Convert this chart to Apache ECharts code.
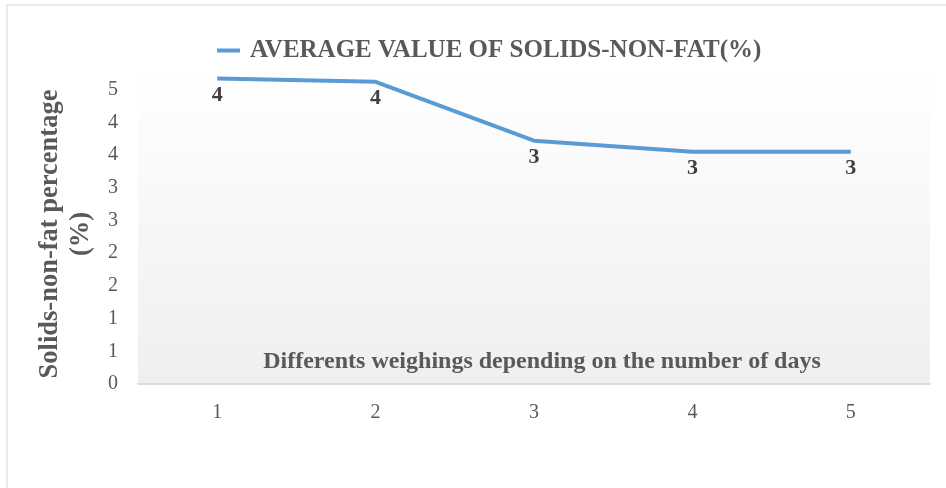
<!DOCTYPE html>
<html>
<head>
<meta charset="utf-8">
<script src="https://cdn.jsdelivr.net/npm/echarts@6/dist/echarts.min.js"></script>
<style>
  html,body{margin:0;padding:0;background:#fff;}
  #chart{width:946px;height:488px;}
</style>
</head>
<body>
<div id="chart"></div>
<script>
// values
var days = ['1', '2', '3', '4', '5'];
var snfValues = [4.67, 4.62, 3.72, 3.55, 3.55];
var seriesName = 'AVERAGE VALUE OF SOLIDS-NON-FAT(%)';
var xName = 'Differents weighings depending on the number of days';
var yName = 'Solids-non-fat percentage\n(%)';

var serif = '"Liberation Serif", "Times New Roman", serif';
var chart = echarts.init(document.getElementById('chart'));

var option = {
    animation: false,
    color: ['#5b9bd5'],
    textStyle: {fontFamily: serif},
    graphic: [
        {
            type: 'rect',
            shape: {x: 7, y: 5, width: 960, height: 500},
            style: {fill: 'none', stroke: '#e3e3e3', lineWidth: 1.5},
            silent: true,
            z: -10
        },
        {
            // y axis title, two lines, rotated
            type: 'text',
            x: 66,
            y: 234,
            rotation: Math.PI / 2,
            style: {
                text: yName,
                fontFamily: serif,
                fontWeight: 'bold',
                fontSize: 26.5,
                fill: '#595959',
                align: 'center',
                verticalAlign: 'middle',
                lineHeight: 31
            }
        },
        {
            // x axis title sits inside the plot area
            type: 'text',
            x: 542,
            y: 362,
            z: 10,
            style: {
                text: xName,
                fontFamily: serif,
                fontWeight: 'bold',
                fontSize: 24,
                fill: '#595959',
                align: 'center',
                verticalAlign: 'middle'
            }
        }
    ],
    legend: {
        left: 212,
        top: 33,
        icon: 'rect',
        itemWidth: 23,
        itemHeight: 4,
        textStyle: {
            fontFamily: serif,
            fontWeight: 'bold',
            fontSize: 25,
            color: '#595959',
            padding: [0, 0, 0, 5]
        },
        data: [seriesName]
    },
    grid: {
        left: 138,
        right: 16,
        top: 70,
        bottom: 104,
        show: true,
        borderWidth: 0,
        backgroundColor: new echarts.graphic.LinearGradient(0, 0, 0, 1, [
            {offset: 0, color: '#ffffff'},
            {offset: 1, color: '#efefef'}
        ])
    },
    xAxis: {
        type: 'category',
        data: days,
        boundaryGap: true,
        axisLine: {lineStyle: {color: '#dcdcdc', width: 2}},
        axisTick: {show: false},
        axisLabel: {
            margin: 19,
            fontFamily: serif,
            fontSize: 20,
            color: '#595959'
        },
        splitLine: {show: false}
    },
    yAxis: {
        type: 'value',
        min: 0,
        max: 4.8,
        interval: 0.5,
        axisLine: {show: false},
        axisTick: {show: false},
        splitLine: {show: false},
        axisLabel: {
            margin: 20,
            showMaxLabel: false,
            fontFamily: serif,
            fontSize: 20,
            color: '#595959',
            formatter: function (v) {
                return v > 4.5 ? '' : String(Math.round(v));
            }
        }
    },
    series: [{
        name: seriesName,
        type: 'line',
        data: snfValues,
        symbol: 'circle',
        symbolSize: 0,
        showSymbol: true,
        lineStyle: {width: 4, color: '#5b9bd5'},
        itemStyle: {color: '#5b9bd5'},
        label: {
            show: true,
            position: 'bottom',
            distance: 6,
            fontFamily: serif,
            fontWeight: 'bold',
            fontSize: 22,
            color: '#404040',
            formatter: function (p) {
                return String(Math.floor(p.value));
            }
        }
    }]
};

chart.setOption(option);
</script>
</body>
</html>
